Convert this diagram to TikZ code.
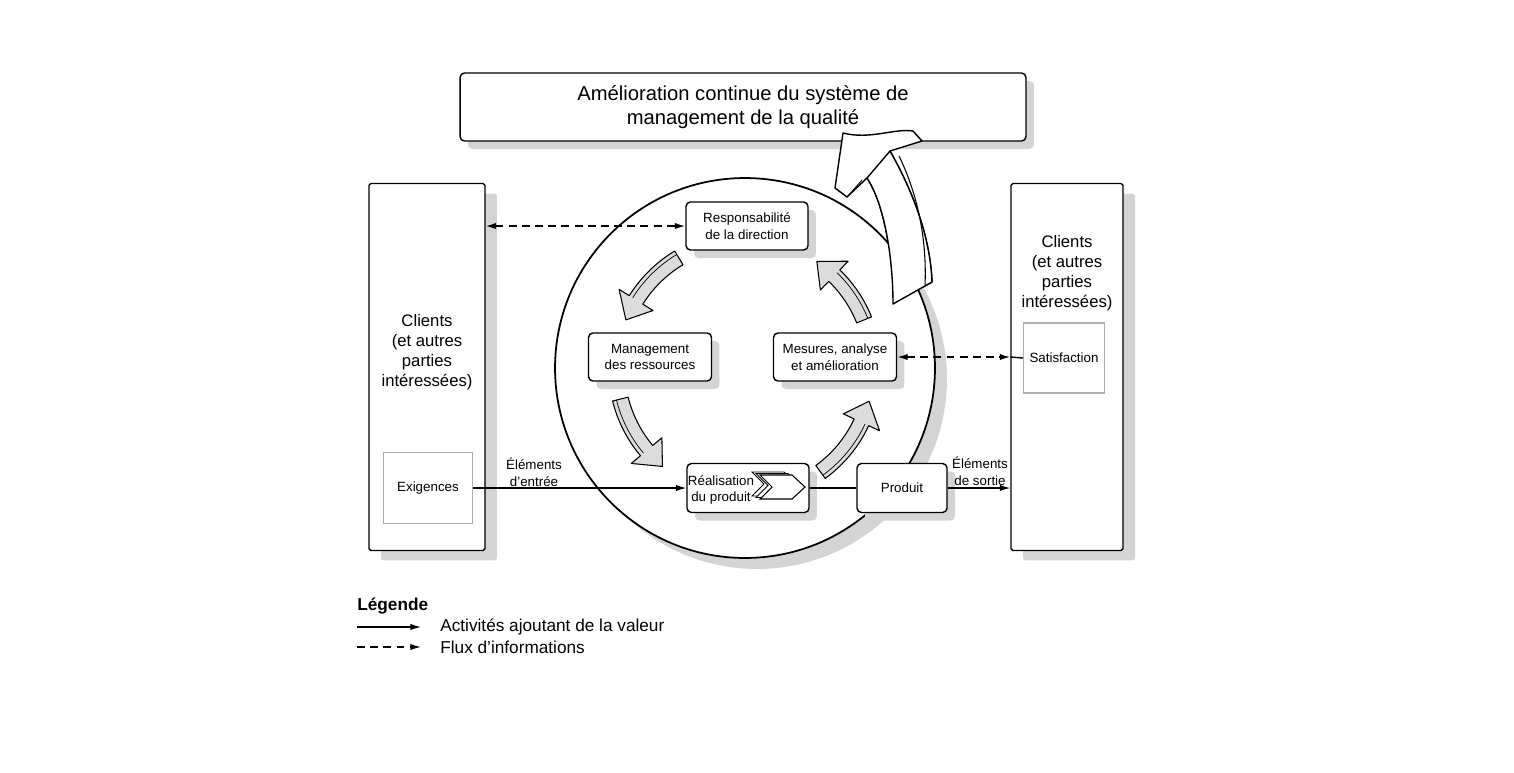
\documentclass[tikz,border=0pt]{standalone}
\usepackage{fontspec}
\setmainfont{Liberation Sans}
\usepackage{tikz}
\usetikzlibrary{arrows.meta,shadows}
\definecolor{shadowgray}{RGB}{212,212,212}
\definecolor{arrowgray}{RGB}{220,220,220}
\definecolor{framegray}{RGB}{175,175,175}

% curved grey arrow of the cycle, #1 = start angle, #2 = end angle
\newcommand{\cyclearrow}[2]{%
  \pgfmathsetmacro\headangle{#2-10}
  \filldraw[fill=arrowgray, line width=0.6pt, line join=round] plot[domain=#1:\headangle, samples=15] (\x:2.73cm) -- (\headangle:2.97cm) -- (#2:2.57cm) -- (\headangle:2.17cm) -- plot[domain=\headangle:#1, samples=15] (\x:2.41cm) -- cycle;
  \draw[line width=0.4pt] plot[domain=#1:\headangle, samples=15] (\x:2.65cm);
}

\begin{document}
\begin{tikzpicture}[x=0.02cm,y=-0.02cm,>={Latex[length=6pt,width=3.6pt]}]
\tikzstyle{box}=[draw, rounded corners=2.5pt, fill=white, line width=0.8pt, inner sep=1pt, align=center, font=\fontsize{7.6}{9.6}\selectfont, drop shadow={shadow xshift=0.16cm,shadow yshift=-0.16cm,fill=shadowgray,opacity=1}]
\tikzstyle{bigbox}=[draw, rounded corners=1pt, fill=white, line width=0.8pt, drop shadow={shadow xshift=0.24cm,shadow yshift=-0.2cm,fill=shadowgray,opacity=1}]
\tikzstyle{subbox}=[draw=framegray, line width=0.6pt, fill=white, font=\fontsize{7.6}{9.6}\selectfont]
\tikzstyle{bigtext}=[align=center, font=\fontsize{9.5}{11.3}\selectfont]
\tikzstyle{smalltext}=[align=center, inner sep=0pt, font=\fontsize{7.6}{9.6}\selectfont]
\tikzstyle{legendtext}=[anchor=west, inner sep=0pt, font=\fontsize{9.8}{11.3}\selectfont]
\tikzstyle{flow}=[->, line width=0.7pt]
\tikzstyle{info}=[line width=0.8pt, dash pattern=on 4.5pt off 3pt]

\useasboundingbox (0,0) rectangle (1514,772);

% title
\node[box, minimum width=11.32cm, minimum height=1.36cm, font=\fontsize{11.5}{13.6}\selectfont] (title) at (743,107) {Amélioration continue du système de\\management de la qualité};

% big arrow into the title
\filldraw[fill=white, line width=0.8pt, line join=round] (843,133) .. controls (870,140) and (895,128) .. (913,131) -- (922,141) -- (890,151) .. controls (912,190) and (930,235) .. (932,282) -- (893,304) .. controls (893,260) and (885,205) .. (867,178) -- (847,197) -- (835,188) -- cycle;
\draw[line width=0.5pt] (847,197) -- (862,180);

% clients
\node[bigbox, minimum width=2.32cm, minimum height=7.34cm] (clientsL) at (427,367) {};
\node[bigtext] (clientsLtext) at (427,352) {Clients\\(et autres\\parties\\intéressées)};
\node[subbox, minimum width=1.78cm, minimum height=1.42cm] (exigences) at (428,488) {Exigences};
\node[bigbox, minimum width=2.24cm, minimum height=7.34cm] (clientsR) at (1067,367) {};
\node[bigtext] (clientsRtext) at (1067,273) {Clients\\(et autres\\parties\\intéressées)};
\node[subbox, minimum width=1.62cm, minimum height=1.4cm] (satisfaction) at (1064,358) {Satisfaction};

% circle
%\draw[line width=1pt] (745,368) circle[radius=3.8cm];
\node[circle, draw, line width=1pt, fill=white, minimum size=7.6cm, inner sep=0pt, drop shadow={shadow xshift=0.24cm,shadow yshift=-0.22cm,fill=shadowgray,opacity=1}] (processus) at (745,368) {};
\filldraw[fill=white, line width=0.8pt, line join=round] (893,304) .. controls (893,260) and (885,205) .. (867,178) -- (890,151) .. controls (912,190) and (930,235) .. (932,282) -- cycle;
\draw[line width=0.6pt] (899,156) .. controls (918,195) and (927,240) .. (925,286);

% processes
\node[box, minimum width=2.44cm, minimum height=0.96cm] (resp) at (747,226) {Responsabilité\\de la direction};
\node[box, minimum width=2.46cm, minimum height=0.96cm] (mgmt) at (650,357) {Management\\des ressources};
\node[box, minimum width=2.46cm, minimum height=0.96cm] (mesures) at (835,357) {Mesures, analyse\\et amélioration};
\node[box, minimum width=2.44cm, minimum height=0.98cm] (realisation) at (748,488) {};
\node[box, minimum width=1.8cm, minimum height=0.98cm] (produit) at (902,488) {Produit};
\foreach \d in {2,1}
  \filldraw[fill=white, line width=0.5pt, shift={(-4*\d,-1.5*\d)}] (760,475) -- (792,475) -- (805,487) -- (792,499) -- (760,499) -- (772,487) -- cycle;
\filldraw[fill=white, line width=0.6pt] (760,475) -- (792,475) -- (805,487) -- (792,499) -- (760,499) -- (772,487) -- cycle;
\node[smalltext] (realtext) at (721,490) {Réalisation\\du produit};

% cycle arrows
\begin{scope}[shift={(745,368)}]
\cyclearrow{121}{158}
\cyclearrow{194}{230}
\cyclearrow{306}{345}
\cyclearrow{22}{56}
\end{scope}

% flows
\draw[info, <->] (resp.west -| clientsL.east) -- (resp.west);
\draw[info, <->] (mesures.east) -- (mesures.east -| clientsR.west);
\draw[line width=0.8pt] (mesures.east -| clientsR.west) -- (satisfaction.west);
\draw[flow] (exigences.east) -- (realisation.west);
\draw[line width=0.7pt] (realisation.east) -- (produit.west);
\draw[flow] (produit.east) -- (produit.east -| clientsR.west);
\node[smalltext] (entree) at (534,472) {Éléments\\d'entrée};
\node[smalltext] (sortie) at (980,471) {Éléments\\de sortie};

% legend
\node[legendtext, font=\bfseries\fontsize{9.8}{11.3}\selectfont] (legende) at (357,606) {Légende};
\coordinate (solidA) at (357,627);
\coordinate (solidB) at (421,627);
\coordinate (dashA) at (357,647);
\coordinate (dashB) at (421,647);
\draw[flow] (solidA) -- (solidB);
\draw[info, ->] (dashA) -- (dashB);
\node[legendtext] (solidtext) at (440,627) {Activités ajoutant de la valeur};
\node[legendtext] (dashtext) at (440,647) {Flux d'informations};

\end{tikzpicture}
\end{document}
